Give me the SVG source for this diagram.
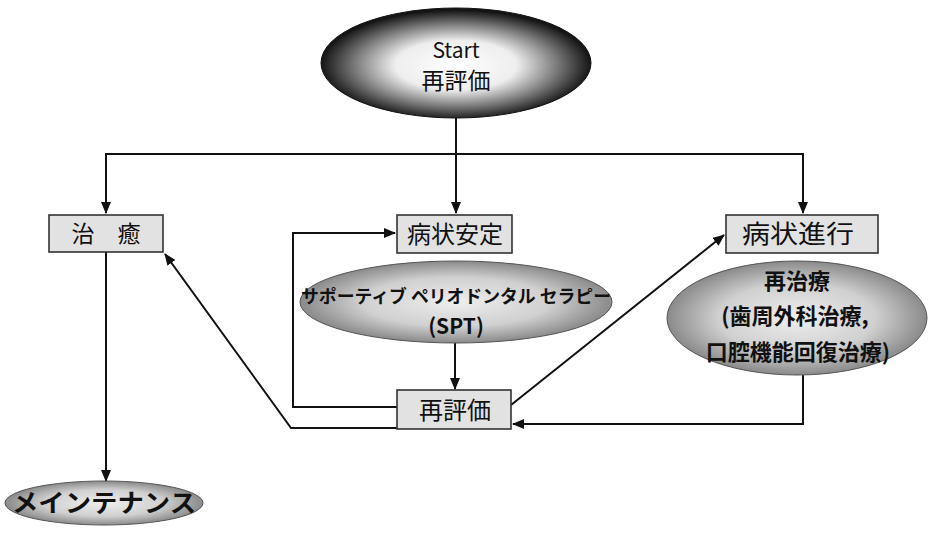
<svg xmlns="http://www.w3.org/2000/svg" width="928" height="535" viewBox="0 0 928 535">
<style>
.box{fill:#e2e2e2;stroke:#333;stroke-width:1.6}
.ell{fill:url(#gEll);stroke:#555;stroke-width:1}
.conn{fill:none;stroke:#111;stroke-width:2}
.t{font-family:"Noto Sans CJK JP","Liberation Sans",sans-serif;fill:#111;text-anchor:middle}
.b{font-weight:bold}
</style>
<defs>
<radialGradient id="gEll" cx="50%" cy="50%" r="50%">
<stop offset="0" stop-color="#eeeeee"/>
<stop offset="0.6" stop-color="#d0d0d0"/>
<stop offset="1" stop-color="#8a8a8a"/>
</radialGradient>
<radialGradient id="gStart" cx="50%" cy="52%" r="50%">
<stop offset="0" stop-color="#ffffff"/>
<stop offset="0.45" stop-color="#eeeeee"/>
<stop offset="0.75" stop-color="#7a7a7a"/>
<stop offset="1" stop-color="#151515"/>
</radialGradient>
<marker id="arr" viewBox="0 0 12 10" refX="11" refY="5" markerWidth="12" markerHeight="10" markerUnits="userSpaceOnUse" orient="auto">
<path d="M0,0 L12,5 L0,10 Z" fill="#111"/>
</marker>
</defs>
<g id="connectors">
<path class="conn" d="M456,118 V213" marker-end="url(#arr)"/>
<path class="conn" d="M456,154 H106 V213" marker-end="url(#arr)"/>
<path class="conn" d="M456,154 H803 V213" marker-end="url(#arr)"/>
<path class="conn" d="M455,343 V389" marker-end="url(#arr)"/>
<path class="conn" d="M397,407 H293 V233 H395" marker-end="url(#arr)"/>
<path class="conn" d="M397,428 H291 L165,254" marker-end="url(#arr)"/>
<path class="conn" d="M511,405 L724,235" marker-end="url(#arr)"/>
<path class="conn" d="M803,375 V424 H513" marker-end="url(#arr)"/>
<path class="conn" d="M106,252 V481" marker-end="url(#arr)"/>
</g>
<g id="start">
<ellipse cx="456" cy="63" rx="135" ry="55" fill="url(#gStart)" stroke="#111" stroke-width="1"/>
<text class="t" x="456" y="58" font-size="21">Start</text>
<text class="t" x="456" y="89" font-size="23">再評価</text>
</g>
<g id="chiyu">
<rect class="box" x="49" y="215" width="114" height="37"/>
<text class="t" x="106" y="242" font-size="23" xml:space="preserve">治　癒</text>
</g>
<g id="antei">
<rect class="box" x="397" y="215" width="115" height="38"/>
<text class="t" x="455" y="243" font-size="24">病状安定</text>
</g>
<g id="shinko">
<rect class="box" x="726" y="215" width="152" height="38"/>
<text class="t" x="798" y="243" font-size="25" textLength="112" lengthAdjust="spacingAndGlyphs">病状進行</text>
</g>
<g id="spt">
<ellipse class="ell" cx="456" cy="302" rx="156" ry="41"/>
<text class="t b" x="456" y="303" font-size="18" textLength="310" lengthAdjust="spacingAndGlyphs">サポーティブ ペリオドンタル セラピー</text>
<text class="t b" x="456" y="334" font-size="21">(SPT)</text>
</g>
<g id="saihyoka">
<rect class="box" x="397" y="390" width="114" height="39"/>
<text class="t" x="455" y="419" font-size="24">再評価</text>
</g>
<g id="saichiryo">
<ellipse class="ell" cx="797" cy="318" rx="130" ry="57"/>
<text class="t b" x="797" y="289" font-size="22">再治療</text>
<text class="t b" x="795" y="324" font-size="22">(歯周外科治療,</text>
<text class="t b" x="798" y="360" font-size="22">口腔機能回復治療)</text>
</g>
<g id="maintenance">
<ellipse class="ell" cx="104" cy="503" rx="99" ry="22"/>
<text class="t b" x="104" y="512" font-size="25" textLength="184" lengthAdjust="spacingAndGlyphs">メインテナンス</text>
</g>
</svg>
